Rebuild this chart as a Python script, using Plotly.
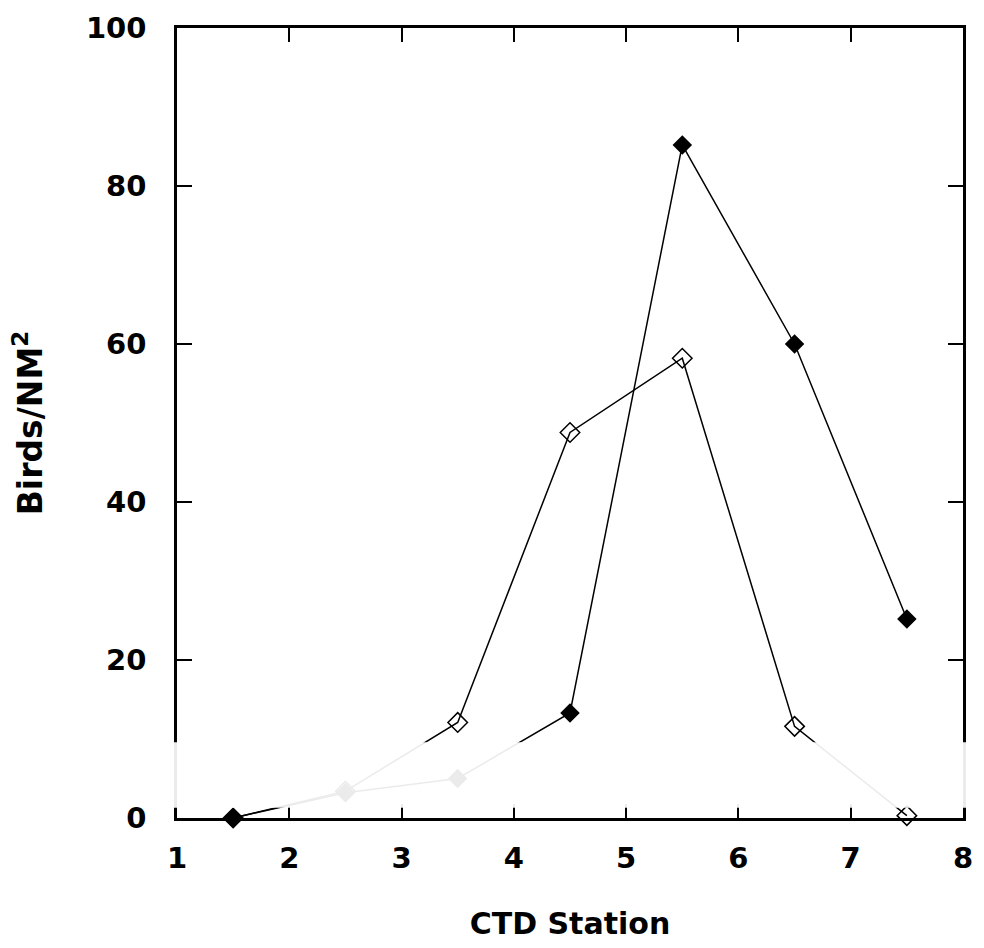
import plotly.graph_objects as go

stations = [1.5, 2.5, 3.5, 4.5, 5.5, 6.5, 7.5]
filled_vals = [0, 3.2, 5.0, 13.3, 85.2, 60.0, 25.2]
open_vals = [0, 3.4, 12.1, 48.8, 58.2, 11.6, 0.3]
x_ticks = [1, 2, 3, 4, 5, 6, 7, 8]
y_ticks = [0, 20, 40, 60, 80, 100]

fig = go.Figure()
fig.add_trace(go.Scatter(
    x=stations, y=open_vals, mode="lines+markers",
    line=dict(color="black", width=1.5),
    marker=dict(symbol="diamond-open", size=15, color="black", line=dict(width=1.5, color="black")),
    showlegend=False, cliponaxis=False))
fig.add_trace(go.Scatter(
    x=stations, y=filled_vals, mode="lines+markers",
    line=dict(color="black", width=1.5),
    marker=dict(symbol="diamond", size=15, color="black"),
    showlegend=False, cliponaxis=False))

# faded band of the scanned original
fig.add_shape(type="rect", xref="paper", yref="y", x0=-0.005, x1=1.005, y0=1.3, y1=9.6,
              fillcolor="white", opacity=0.92, line=dict(width=0), layer="above")

font = dict(family="DejaVu Sans, Liberation Sans, sans-serif", size=30, color="black")
fig.update_layout(
    width=984, height=948,
    margin=dict(l=177, r=11, t=20, b=130),
    paper_bgcolor="white", plot_bgcolor="white",
    font=font,
    xaxis=dict(range=[1, 8], tickvals=x_ticks, ticktext=[f"<b>{v}</b>" for v in x_ticks],
               tickfont=dict(size=29),
               showgrid=False, zeroline=False, showline=True, linecolor="black", linewidth=2.5,
               mirror="ticks", ticks="inside", ticklen=14, tickwidth=1.5, tickcolor="black",
               ticklabelstandoff=12,
               title=dict(text="<b>CTD Station</b>", font=dict(size=30), standoff=40)),
    yaxis=dict(range=[0, 100], tickvals=y_ticks, ticktext=[f"<b>{v}</b>" for v in y_ticks],
               tickfont=dict(size=29),
               showgrid=False, zeroline=False, showline=True, linecolor="black", linewidth=2.5,
               mirror="ticks", ticks="inside", ticklen=15, tickwidth=2, tickcolor="black",
               ticklabelstandoff=22,
               title=dict(text="<b>Birds/NM<sup>2</sup></b>", font=dict(size=33), standoff=34)),
)
fig.write_html("out.html")
